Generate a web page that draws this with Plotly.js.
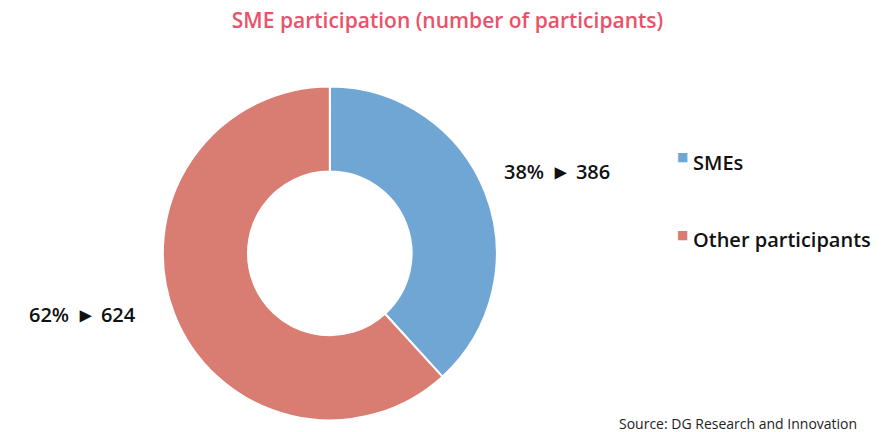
<!DOCTYPE html>
<html>
<head>
<meta charset="utf-8">
<script src="https://cdn.plot.ly/plotly-3.0.1.min.js"></script>
<style>
  html, body { margin: 0; padding: 0; background: #fff; }
  #chart { width: 895px; height: 432px; }
</style>
</head>
<body>
<div id="chart"></div>
<script>
// SME participation donut
const labels = ['SMEs', 'Other participants'];
const values = [386, 624];
const colors = ['#6fa6d4', '#d97c72'];
const sourceText = 'Source: DG Research and Innovation';

const FONT = 'Open Sans, Noto Sans, sans-serif';
const total = values.reduce((s, v) => s + v, 0);

const trace = {
    type: 'pie',
    labels: labels,
    values: values,
    hole: 0.49,
    sort: false,
    direction: 'clockwise',
    rotation: 0,
    textinfo: 'none',
    hoverinfo: 'label+value+percent',
    marker: { colors: colors, line: { color: '#ffffff', width: 2 } },
    domain: { x: [0.15, 0.587], y: [0.027, 0.80] },
    showlegend: false
};

// value labels next to the slices
const labelPos = [
    { x: 0.561, y: 0.607 },
    { x: 0.030, y: 0.276 }
];
const gap = '\u00A0';
const annotations = values.map((v, i) => ({
    xref: 'paper', yref: 'paper',
    x: labelPos[i].x, y: labelPos[i].y,
    xanchor: 'left', yanchor: 'middle',
    showarrow: false,
    text: Math.round(v / total * 100) + '%' + gap + gap +
          '<span style="font-size:22px">\u25B8</span>' + gap + gap + v,
    font: { family: FONT, size: 20, weight: 600, color: '#111111' }
}));

// legend built by hand to get the wide spacing between entries
const legendY = [0.625, 0.445];
labels.forEach((lab, i) => {
    annotations.push({
        xref: 'paper', yref: 'paper',
        x: 0.754, y: legendY[i] + 0.012,
        xanchor: 'left', yanchor: 'middle',
        showarrow: false,
        text: '\u25A0',
        font: { family: 'DejaVu Sans', size: 12, color: colors[i] }
    });
    annotations.push({
        xref: 'paper', yref: 'paper',
        x: 0.772, y: legendY[i],
        xanchor: 'left', yanchor: 'middle',
        showarrow: false,
        text: lab,
        font: { family: FONT, size: 20, weight: 600, color: '#111111' }
    });
});

annotations.push({
    xref: 'paper', yref: 'paper',
    x: 0.96, y: 0.02,
    xanchor: 'right', yanchor: 'middle',
    showarrow: false,
    text: sourceText,
    font: { family: FONT, size: 14, color: '#222222' }
});

const layout = {
    width: 895,
    height: 432,
    margin: { l: 0, r: 0, t: 0, b: 0 },
    paper_bgcolor: '#ffffff',
    title: {
        text: 'SME participation (number of participants)',
        x: 0.5, xanchor: 'center',
        y: 0.953, yanchor: 'middle',
        font: { family: FONT, size: 21, weight: 600, color: '#e9526a' }
    },
    annotations: annotations
};

Plotly.newPlot('chart', [trace], layout, { displayModeBar: false });
</script>
</body>
</html>
